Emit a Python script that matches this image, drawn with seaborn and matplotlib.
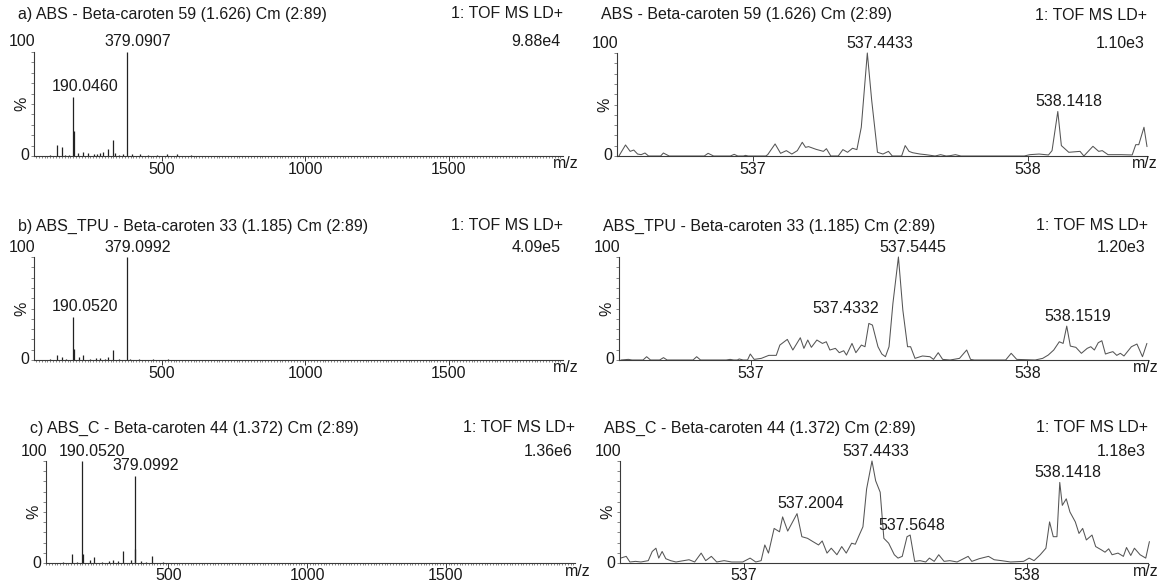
import matplotlib
matplotlib.use("Agg")
import matplotlib.pyplot as plt
import seaborn as sns
from matplotlib.ticker import MultipleLocator, FixedLocator, NullFormatter

# ---------------- data ----------------
# left panels: stick spectra (m/z, % intensity)
A_STICK_MZ = [110, 132, 149, 162, 176, 190.046, 192, 207, 225, 242, 262, 272, 283, 295, 312, 328, 336,
              350, 365, 379.0907, 394, 423, 452, 482, 517, 552, 600]
A_STICK_I = [1.0, 11, 9, 1.2, 1.0, 57, 24, 3, 4, 2.5, 1.5, 2.0, 3, 4, 6.4, 15, 3,
             1.2, 2.0, 100, 2, 1.5, 0.8, 1.0, 1.5, 1.5, 0.5]

B_STICK_MZ = [110, 134, 149, 165, 190.052, 192, 210, 223, 250, 270, 283, 300, 312, 328, 350,
              379.0992, 388, 420, 470, 520]
B_STICK_I = [0.8, 5.2, 3.2, 1.0, 41.6, 10.7, 3.2, 5.2, 1.0, 1.5, 2.0, 1.0, 3.2, 10.0, 1.0,
             100, 1.3, 0.8, 0.6, 0.5]

C_STICK_MZ = [120, 153, 170, 190.052, 192, 218, 233, 260, 285, 299, 320, 338, 366, 379.0992, 381,
              402, 420, 442, 480]
C_STICK_I = [0.8, 8.7, 1.2, 100, 8.7, 3.2, 5.5, 1.2, 1.5, 3.2, 1.5, 12.0, 3.2, 85.5, 13.9,
             2.3, 1.0, 7.1, 0.6]

# right panels: profile spectra (m/z, % intensity)
A_PROF_MZ = [536.511, 536.535, 536.552, 536.565, 536.579, 536.592, 536.606, 536.619, 536.663, 536.673,
             536.694, 536.822, 536.836, 536.856, 536.917, 536.931, 536.944, 536.965, 536.972, 536.982,
             537.015, 537.046, 537.053, 537.080, 537.100, 537.121, 537.141, 537.161, 537.179, 537.191,
             537.202, 537.229, 537.256, 537.267, 537.283, 537.310, 537.327, 537.344, 537.362, 537.378,
             537.394, 537.416, 537.432, 537.453, 537.473, 537.493, 537.507, 537.541, 537.554, 537.568,
             537.581, 537.608, 537.629, 537.663, 537.683, 537.703, 537.717, 537.737, 537.757, 537.988,
             538.008, 538.042, 538.076, 538.089, 538.110, 538.123, 538.150, 538.191, 538.205, 538.238,
             538.259, 538.272, 538.293, 538.340, 538.381, 538.394, 538.405, 538.424, 538.435]
A_PROF_I = [0, 10.7, 4.5, 5.8, 1.9, 1.3, 2.9, 0, 0, 2.9,
            0, 0, 2.6, 0, 0, 1.6, 0, 0, 0.6, 0,
            0, 0, 1.3, 11.7, 2.6, 5.2, 1.9, 5.2, 13.3, 8.4,
            9.1, 6.5, 4.5, 7.1, 0, 0, 6.2, 3.6, 7.5, 6.2,
            27.9, 100, 53.9, 3.6, 1.9, 4.5, 0, 0, 10.1, 4.5,
            3.2, 1.9, 1.3, 0, 1.3, 0, 0.3, 1.3, 0, 0,
            1.3, 1.9, 1.0, 5.2, 43.2, 10.1, 3.6, 4.5, 0, 9.4,
            4.5, 5.2, 1.3, 1.3, 1.0, 11.0, 11.0, 27.9, 9.1]

B_PROF_MZ = [536.529, 536.556, 536.569, 536.609, 536.622, 536.636, 536.669, 536.683, 536.696, 536.790,
             536.803, 536.817, 536.910, 536.924, 536.937, 536.950, 536.957, 536.971, 536.987, 536.997,
             537.011, 537.037, 537.064, 537.091, 537.104, 537.131, 537.151, 537.178, 537.191, 537.205,
             537.218, 537.238, 537.258, 537.272, 537.285, 537.305, 537.319, 537.335, 537.345, 537.365,
             537.379, 537.399, 537.412, 537.426, 537.439, 537.459, 537.473, 537.486, 537.499, 537.513,
             537.533, 537.549, 537.566, 537.577, 537.593, 537.620, 537.647, 537.660, 537.677, 537.693,
             537.720, 537.754, 537.780, 537.794, 537.807, 537.908, 537.921, 537.941, 537.961, 538.028,
             538.055, 538.075, 538.095, 538.115, 538.129, 538.142, 538.155, 538.175, 538.195, 538.216,
             538.229, 538.242, 538.256, 538.269, 538.282, 538.296, 538.309, 538.323, 538.336, 538.349,
             538.376, 538.396, 538.416, 538.432]
B_PROF_I = [0, 0.6, 0, 0, 3.2, 0, 0, 2.3, 0, 0,
            3.2, 0, 0, 0.6, 0, 0, 1.0, 0, 0, 5.8,
            0.6, 1.6, 4.5, 4.5, 14.5, 20.0, 9.7, 21.6, 11.3, 19.4,
            12.3, 19.4, 16.1, 17.7, 9.7, 11.3, 7.1, 9.0, 4.8, 16.1,
            7.1, 14.5, 12.9, 35.5, 33.9, 12.9, 5.8, 3.2, 12.9, 54.8,
            100, 48.4, 12.9, 12.9, 1.6, 3.9, 3.2, 0.6, 7.1, 0.6,
            0, 1.6, 9.7, 0.6, 0, 0, 0, 6.5, 0.6, 0,
            1.6, 4.8, 9.7, 17.7, 16.1, 32.9, 13.5, 12.3, 6.5, 11.3,
            12.9, 9.7, 16.8, 18.7, 5.8, 7.1, 8.1, 4.5, 6.5, 3.9,
            12.9, 15.5, 3.2, 16.1]

C_PROF_MZ = [536.563, 536.583, 536.596, 536.616, 536.635, 536.661, 536.675, 536.688, 536.698, 536.710,
             536.723, 536.740, 536.759, 536.786, 536.805, 536.825, 536.848, 536.864, 536.884, 536.903,
             536.929, 536.956, 536.995, 537.021, 537.041, 537.060, 537.073, 537.086, 537.106, 537.125,
             537.136, 537.154, 537.187, 537.204, 537.224, 537.243, 537.263, 537.276, 537.293, 537.308,
             537.328, 537.345, 537.361, 537.380, 537.393, 537.407, 537.420, 537.433, 537.452, 537.465,
             537.481, 537.494, 537.511, 537.531, 537.544, 537.559, 537.576, 537.587, 537.603, 537.622,
             537.642, 537.655, 537.672, 537.688, 537.707, 537.727, 537.753, 537.792, 537.805, 537.831,
             537.864, 537.884, 537.910, 537.942, 537.988, 538.008, 538.025, 538.047, 538.067, 538.080,
             538.093, 538.106, 538.116, 538.125, 538.139, 538.152, 538.171, 538.184, 538.197, 538.210,
             538.230, 538.243, 538.263, 538.276, 538.289, 538.301, 538.322, 538.341, 538.352, 538.367,
             538.380, 538.400, 538.420, 538.433]
C_PROF_I = [4.8, 6.5, 1.0, 1.6, 1.0, 2.3, 11.3, 14.5, 4.8, 11.3,
            4.2, 2.3, 1.0, 2.3, 3.2, 1.0, 9.7, 2.3, 6.5, 1.0,
            2.3, 1.0, 1.0, 4.8, 1.0, 2.3, 17.7, 9.7, 33.9, 30.6,
            45.2, 31.3, 48.4, 25.8, 24.2, 21.0, 17.7, 21.6, 9.7, 14.5,
            8.1, 16.1, 9.7, 19.4, 18.4, 27.4, 35.5, 72.6, 100, 80.6,
            69.4, 24.2, 19.4, 8.1, 4.8, 6.5, 25.8, 27.4, 1.6, 2.3,
            1.0, 4.8, 1.6, 8.1, 1.6, 2.3, 1.0, 6.5, 1.6, 4.2,
            6.5, 3.2, 2.3, 1.0, 1.6, 4.8, 2.3, 8.1, 14.5, 40.3,
            25.8, 25.8, 79.0, 56.5, 62.9, 50.0, 40.3, 29.0, 33.9, 22.6,
            27.4, 16.1, 12.9, 10.6, 13.9, 8.1, 9.7, 6.5, 15.2, 7.4,
            14.5, 8.1, 4.8, 21.0]

# texts
LEFT_TITLES = ["a) ABS - Beta-caroten 59 (1.626) Cm (2:89)",
               "b) ABS_TPU - Beta-caroten 33 (1.185) Cm (2:89)",
               "c) ABS_C - Beta-caroten 44 (1.372) Cm (2:89)"]
RIGHT_TITLES = ["ABS - Beta-caroten 59 (1.626) Cm (2:89)",
                "ABS_TPU - Beta-caroten 33 (1.185) Cm (2:89)",
                "ABS_C - Beta-caroten 44 (1.372) Cm (2:89)"]
MODE_LABEL = "1: TOF MS LD+"
LEFT_SCALES = ["9.88e4", "4.09e5", "1.36e6"]
RIGHT_SCALES = ["1.10e3", "1.20e3", "1.18e3"]
LEFT_TICKS = [500, 1000, 1500]
RIGHT_TICKS = [537, 538]

A_LEFT_PEAKS = [(190.046, 57, "190.0460"), (379.0907, 100, "379.0907")]
B_LEFT_PEAKS = [(190.052, 41.6, "190.0520"), (379.0992, 100, "379.0992")]
C_LEFT_PEAKS = [(190.052, 100, "190.0520"), (379.0992, 85.5, "379.0992")]
A_RIGHT_PEAKS = [(537.416, 100, "537.4433"), (538.110, 43.2, "538.1418")]
B_RIGHT_PEAKS = [(537.533, 100, "537.5445"), (537.426, 35.5, "537.4332"), (538.142, 32.9, "538.1519")]
C_RIGHT_PEAKS = [(537.452, 100, "537.4433"), (538.116, 79.0, "538.1418"),
                 (537.187, 48.4, "537.2004"), (537.587, 27.4, "537.5648")]

# ---------------- figure ----------------
W, H = 1160, 583
sns.set_style("white")
plt.rcParams['font.family'] = ['Liberation Sans', 'DejaVu Sans']
FS = 11.5
TXT = "#1a1a1a"
AXC = "#3a3a3a"

fig = plt.figure(figsize=(W / 100, H / 100), dpi=100)


def make_ax(x0, x1, ytop, ybot):
    return fig.add_axes([x0 / W, 1 - ybot / H, (x1 - x0) / W, (ybot - ytop) / H])


def style(ax, xlim, ticks, minor, title, title_dy, scale, mz_dx, pad):
    ax.set_xlim(*xlim)
    ax.set_ylim(0, 100)
    for s in ["top", "right"]:
        ax.spines[s].set_visible(False)
    for s in ["left", "bottom"]:
        ax.spines[s].set_color(AXC)
        ax.spines[s].set_linewidth(0.8)
    ax.set_facecolor("white")
    ax.xaxis.set_major_locator(FixedLocator(ticks))
    if minor:
        ax.xaxis.set_minor_locator(MultipleLocator(minor))
    ax.tick_params(axis="x", which="major", length=3.5, width=0.7, color=AXC,
                   labelsize=FS, labelcolor=TXT, pad=pad, direction="out", bottom=True)
    ax.tick_params(axis="x", which="minor", length=1.6, width=0.5, color="#555", bottom=True)
    ax.yaxis.set_major_locator(MultipleLocator(10))
    ax.yaxis.set_major_formatter(NullFormatter())
    ax.tick_params(axis="y", which="major", length=2.2, width=0.5, color="#555",
                   direction="out", left=True)
    ax.set_xlabel("")
    ax.set_ylabel("")
    kw = dict(xycoords="axes fraction", textcoords="offset pixels", fontsize=FS, color=TXT,
              annotation_clip=False)
    ax.annotate(title, xy=(0, 1), xytext=(-16, title_dy), ha="left", va="center", **kw)
    ax.annotate(MODE_LABEL, xy=(1, 1), xytext=(0, title_dy), ha="right", va="center", **kw)
    ax.annotate(scale, xy=(1, 1), xytext=(-2, 10), ha="right", va="center", **kw)
    ax.annotate("100", xy=(0, 1), xytext=(-12, 10), ha="center", va="center", **kw)
    ax.annotate("0", xy=(0, 0), xytext=(-9, 0), ha="center", va="center", **kw)
    ax.annotate("%", xy=(0, 0.5), xytext=(-12, 0), ha="center", va="center", rotation=90, **kw)
    ax.annotate("m/z", xy=(1, 0), xytext=(mz_dx, -8), ha="center", va="center", **kw)


def peak_labels(ax, peaks, offsets):
    for (mz, pct, lab), (dx, dy) in zip(peaks, offsets):
        ax.annotate(lab, xy=(mz, pct), xytext=(dx, dy), textcoords="offset pixels",
                    ha="center", va="center", fontsize=FS, color=TXT, annotation_clip=False)


LEFT_BOXES = [(34, 563, 52, 156), (34, 563, 257, 360), (46, 575, 461, 563)]
RIGHT_BOXES = [(617, 1147, 53, 156), (619, 1148, 257, 360), (620, 1148, 461, 563)]
LEFT_XLIMS = [(53, 1899), (53, 1899), (59, 1966)]
RIGHT_XLIMS = [(536.504, 538.435), (536.522, 538.436), (536.561, 538.428)]
TITLE_DY = [38, 31, 33]
TICK_PAD = [1, 1, 0]

stick_sets = [(A_STICK_MZ, A_STICK_I), (B_STICK_MZ, B_STICK_I), (C_STICK_MZ, C_STICK_I)]
prof_sets = [(A_PROF_MZ, A_PROF_I), (B_PROF_MZ, B_PROF_I), (C_PROF_MZ, C_PROF_I)]
left_peaks = [A_LEFT_PEAKS, B_LEFT_PEAKS, C_LEFT_PEAKS]
right_peaks = [A_RIGHT_PEAKS, B_RIGHT_PEAKS, C_RIGHT_PEAKS]
left_offsets = [[(12, 10), (10, 10)], [(12, 11), (10, 10)], [(10, 10), (11, 10)]]
right_offsets = [[(12, 10), (11, 10)], [(14, 10), (-23, 15), (11, 10)],
                 [(4, 10), (8, 10), (14, 10), (2, 10)]]

for i in range(3):
    # left: stick spectrum
    ax = make_ax(*LEFT_BOXES[i])
    mz, inten = stick_sets[i]
    ax.vlines(mz, 0, inten, color="#222222", lw=0.9)
    style(ax, LEFT_XLIMS[i], LEFT_TICKS, 10, LEFT_TITLES[i], TITLE_DY[i], LEFT_SCALES[i], 3,
          TICK_PAD[i])
    peak_labels(ax, left_peaks[i], left_offsets[i])

    # right: profile spectrum
    ax = make_ax(*RIGHT_BOXES[i])
    mz, inten = prof_sets[i]
    sns.lineplot(x=mz, y=inten, ax=ax, color="#555555", lw=0.75, sort=False,
                 estimator=None, clip_on=False)
    style(ax, RIGHT_XLIMS[i], RIGHT_TICKS, None, RIGHT_TITLES[i], TITLE_DY[i], RIGHT_SCALES[i], -2,
          TICK_PAD[i])
    peak_labels(ax, right_peaks[i], right_offsets[i])

fig.savefig("out.png", dpi=100, facecolor="white")
